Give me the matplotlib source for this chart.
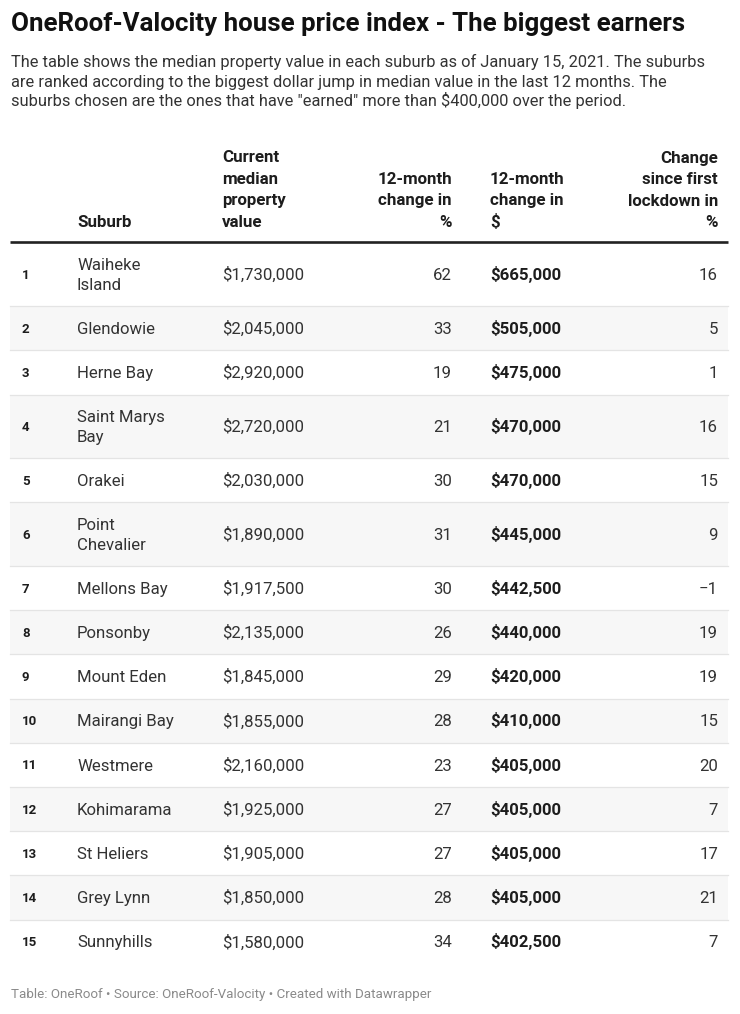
import textwrap
import matplotlib.pyplot as plt

plt.rcParams['font.family'] = ['Roboto', 'DejaVu Sans']

# --- data ---
ranks = [1, 2, 3, 4, 5, 6, 7, 8, 9, 10, 11, 12, 13, 14, 15]
suburbs = ['Waiheke Island', 'Glendowie', 'Herne Bay', 'Saint Marys Bay', 'Orakei',
           'Point Chevalier', 'Mellons Bay', 'Ponsonby', 'Mount Eden', 'Mairangi Bay',
           'Westmere', 'Kohimarama', 'St Heliers', 'Grey Lynn', 'Sunnyhills']
current_value = [1730000, 2045000, 2920000, 2720000, 2030000, 1890000, 1917500, 2135000,
                 1845000, 1855000, 2160000, 1925000, 1905000, 1850000, 1580000]
change_pct = [62, 33, 19, 21, 30, 31, 30, 26, 29, 28, 23, 27, 27, 28, 34]
change_dollar = [665000, 505000, 475000, 470000, 470000, 445000, 442500, 440000,
                 420000, 410000, 405000, 405000, 405000, 405000, 402500]
change_lockdown = [16, 5, 1, 16, 15, 9, -1, 19, 19, 15, 20, 7, 17, 21, 7]

headers = ['', 'Suburb', 'Current\nmedian\nproperty\nvalue', '12-month\nchange in\n%',
           '12-month\nchange in\n$', 'Change\nsince first\nlockdown in\n%']

title = 'OneRoof-Valocity house price index - The biggest earners'
description = ['The table shows the median property value in each suburb as of January 15, 2021. The suburbs',
               'are ranked according to the biggest dollar jump in median value in the last 12 months. The',
               'suburbs chosen are the ones that have "earned" more than $400,000 over the period.']
footer = 'Table: OneRoof \u2022 Source: OneRoof-Valocity \u2022 Created with Datawrapper'

# --- layout (pixels) ---
W, H = 740, 1014
LEFT, RIGHT = 10, 728
col_x = [22, 77, 222, 452, 490, 718]
col_ha = ['left', 'left', 'left', 'right', 'left', 'right']
HEADER_BASE = 227
HEADER_PITCH = 21.5
HEADER_LINE_Y = 241.5
ROW_H = 44.2
LINE_PITCH = 19.4
DARK = '#1d1d1d'
TEXT = '#333333'


def fmt_money(v):
    return f'${v:,}'


def fmt_int(v):
    return f'{v}'.replace('-', '\u2212')


fig = plt.figure(figsize=(W / 100, H / 100), dpi=100)
ax = fig.add_axes([0, 0, 1, 1])
ax.set_xlim(0, W)
ax.set_ylim(H, 0)
ax.axis('off')

# title + description
ax.text(11, 31.5, title, fontsize=18.6, fontweight='bold', color='#111111',
        va='baseline', ha='left', parse_math=False)
for i, line in enumerate(description):
    ax.text(11, 67 + i * 19.5, line, fontsize=11.8, color=TEXT,
            va='baseline', ha='left', parse_math=False)

# header, bottom aligned
for x, ha, h in zip(col_x, col_ha, headers):
    lines = h.split('\n') if h else []
    n = len(lines)
    for j, line in enumerate(lines):
        ax.text(x, HEADER_BASE - (n - 1 - j) * HEADER_PITCH, line, fontsize=12.2,
                fontweight='bold', color=DARK, ha=ha, va='baseline', parse_math=False)
ax.plot([LEFT, RIGHT], [HEADER_LINE_Y, HEADER_LINE_Y], color='#222222', lw=1.9,
        solid_capstyle='butt')

# rows
y = HEADER_LINE_Y + 1
for i, r in enumerate(ranks):
    name_lines = textwrap.wrap(suburbs[i], 12)
    h = ROW_H + LINE_PITCH * (len(name_lines) - 1)
    cy = y + h / 2
    if r % 2 == 0:
        ax.barh(cy, RIGHT - LEFT, height=h, left=LEFT, color='#f7f7f7', zorder=0)
    if i > 0:
        ax.plot([LEFT, RIGHT], [y, y], color='#e4e4e4', lw=0.9, zorder=1)

    base = cy + 5.8
    ax.text(col_x[0], cy + 4.6, str(r), fontsize=9.5, fontweight='bold', color=DARK,
            ha='left', va='baseline')
    n = len(name_lines)
    for j, line in enumerate(name_lines):
        ax.text(col_x[1], base + (j - (n - 1) / 2) * LINE_PITCH, line, fontsize=12.1,
                color=TEXT, ha='left', va='baseline')
    cells = [fmt_money(current_value[i]), fmt_int(change_pct[i]),
             fmt_money(change_dollar[i]), fmt_int(change_lockdown[i])]
    for k, txt in enumerate(cells):
        ax.text(col_x[k + 2], base, txt, fontsize=12.1, color=DARK if k == 2 else TEXT,
                fontweight='bold' if k == 2 else 'normal', ha=col_ha[k + 2],
                va='baseline', parse_math=False)
    y += h

ax.text(11, 998, footer, fontsize=9.6, color='#8a8a8a', ha='left', va='baseline',
        parse_math=False)

fig.savefig('out.png', dpi=100)
